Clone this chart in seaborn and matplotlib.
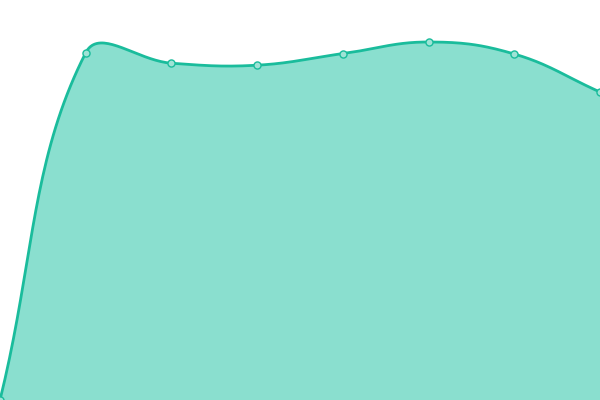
import numpy as np
import pandas as pd
import matplotlib
matplotlib.use("Agg")
import matplotlib.pyplot as plt
import seaborn as sns

# Data
labels = ["P0", "P1", "P2", "P3", "P4", "P5", "P6", "P7"]
values = [0, 86.8, 84.2, 83.7, 86.6, 89.5, 86.5, 77]
y_max = 100

LINE = "#1abc9c"
FILL = "#8adfcf"
MARK_FACE = "#9fe3d6"

W, H = 600, 400


def spline(px, py, tension=0.4, steps=40):
    """Chart.js style bezier spline through points (pixel space)."""
    n = len(px)
    pts = np.column_stack([px, py])
    ctrl_prev = pts.copy()
    ctrl_next = pts.copy()
    for i in range(n):
        prev = pts[i - 1] if i > 0 else pts[i]
        nxt = pts[i + 1] if i < n - 1 else pts[i]
        d01 = np.hypot(*(pts[i] - prev))
        d12 = np.hypot(*(nxt - pts[i]))
        tot = d01 + d12
        fa = tension * d01 / tot if tot else 0
        fb = tension * d12 / tot if tot else 0
        ctrl_prev[i] = pts[i] - fa * (nxt - prev)
        ctrl_next[i] = pts[i] + fb * (nxt - prev)
    ctrl_prev[:, 1] = np.clip(ctrl_prev[:, 1], 0, H)
    ctrl_next[:, 1] = np.clip(ctrl_next[:, 1], 0, H)
    out = []
    t = np.linspace(0, 1, steps)[:, None]
    for i in range(n - 1):
        p0, p1, p2, p3 = pts[i], ctrl_next[i], ctrl_prev[i + 1], pts[i + 1]
        seg = ((1 - t) ** 3) * p0 + 3 * ((1 - t) ** 2) * t * p1 + 3 * (1 - t) * t ** 2 * p2 + t ** 3 * p3
        out.append(seg if i == 0 else seg[1:])
    return np.vstack(out)


idx = np.arange(len(values))
px = idx * W / (len(values) - 1)
py = H - np.array(values) / y_max * H
curve = spline(px, py)
curve_df = pd.DataFrame({
    "x": curve[:, 0] / W * (len(values) - 1),
    "y": (H - curve[:, 1]) / H * y_max,
})
pts_df = pd.DataFrame({"x": idx, "y": values})

fig = plt.figure(figsize=(6, 4), dpi=100)
ax = fig.add_axes([0, 0, 1, 1])

ax.fill_between(curve_df["x"], 0, curve_df["y"], color=FILL, linewidth=0)
sns.lineplot(data=curve_df, x="x", y="y", ax=ax, color=LINE, linewidth=2.0,
             sort=False, estimator=None)
sns.scatterplot(data=pts_df, x="x", y="y", ax=ax, s=26, color=MARK_FACE,
                edgecolor=LINE, linewidth=1.0, zorder=5)

ax.set_xlim(0, len(values) - 1)
ax.set_ylim(0, y_max)
ax.axis("off")

fig.savefig("out.png", dpi=100)
